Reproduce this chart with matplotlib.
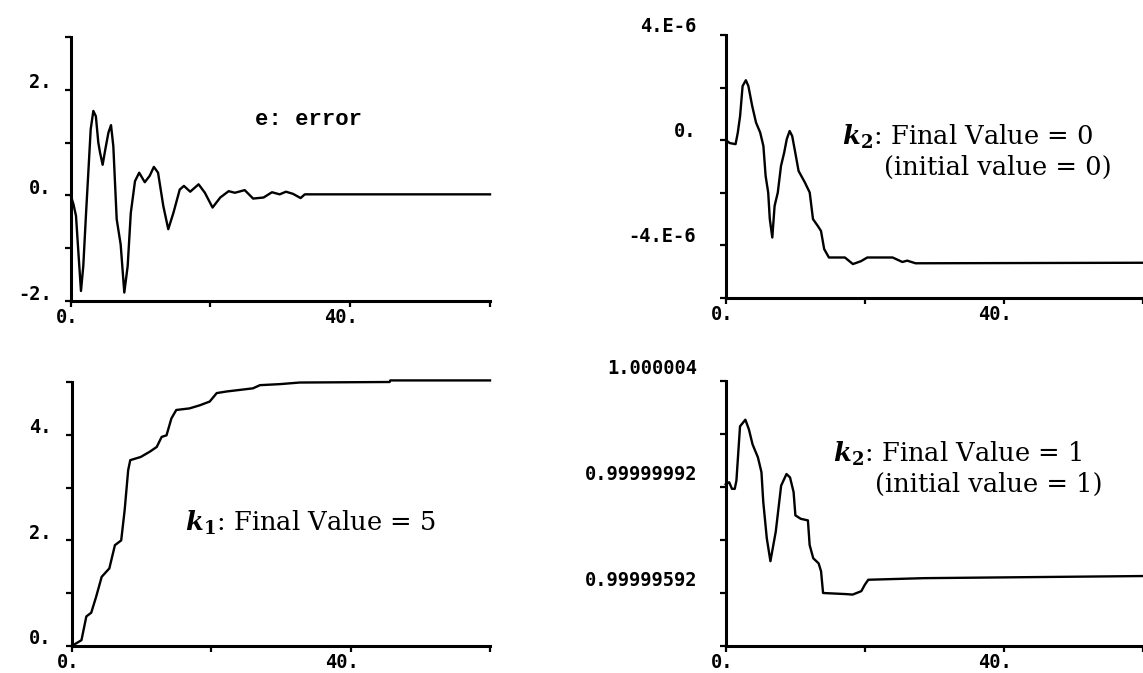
import matplotlib
matplotlib.use("Agg")
import matplotlib.pyplot as plt
from matplotlib.transforms import ScaledTranslation

plt.rcParams['mathtext.fontset'] = 'dejavuserif'

# ---------------- data ----------------
# e: error
err_t = [0, 0.4, 0.76, 1.1, 1.47, 1.8, 2.2, 2.57, 2.86, 3.24, 3.6, 3.95, 4.2, 4.57,
         4.95, 5.4, 5.77, 6.1, 6.58, 7.15, 7.67, 8.15, 8.6, 9.2, 9.8, 10.6, 11.3,
         11.9, 12.5, 13.25, 13.96, 14.7, 15.6, 16.2, 17.1, 18.3, 19.2, 20.3, 21.4,
         22.6, 23.5, 24.9, 26.1, 27.6, 28.8, 29.9, 30.8, 31.8, 32.9, 33.5, 60]
err_v = [0.0, -0.17, -0.39, -1.08, -1.81, -1.34, -0.33, 0.55, 1.25, 1.6, 1.5, 1.0, 0.81,
         0.58, 0.87, 1.19, 1.33, 0.93, -0.45, -0.93, -1.84, -1.34, -0.33, 0.27, 0.43,
         0.25, 0.37, 0.54, 0.43, -0.2, -0.64, -0.33, 0.11, 0.18, 0.07, 0.21, 0.05,
         -0.23, -0.04, 0.08, 0.05, 0.1, -0.06, -0.04, 0.06, 0.02, 0.07, 0.03, -0.05,
         0.02, 0.02]

# k2 (initial value = 0)
k2a_t = [0, 0.59, 1.42, 1.74, 2.07, 2.43, 2.9, 3.26, 3.81, 4.36, 4.96, 5.42, 5.74,
         6.11, 6.34, 6.7, 7.03, 7.49, 7.95, 8.41, 8.78, 9.19, 9.56, 10.0, 10.48,
         11.39, 12.08, 12.55, 13.24, 13.7, 14.16, 14.84, 17.14, 18.29, 19.45, 20.36,
         24.0, 25.4, 26.1, 27.3, 60]
k2a_v = [0.01e-6, -0.11e-6, -0.15e-6, 0.29e-6, 0.92e-6, 2.06e-6, 2.28e-6, 2.06e-6,
         1.3e-6, 0.67e-6, 0.29e-6, -0.22e-6, -1.36e-6, -1.99e-6, -3.0e-6, -3.7e-6,
         -2.5e-6, -1.99e-6, -0.98e-6, -0.47e-6, 0.04e-6, 0.35e-6, 0.16e-6, -0.47e-6,
         -1.17e-6, -1.61e-6, -1.99e-6, -3.0e-6, -3.26e-6, -3.45e-6, -4.14e-6,
         -4.46e-6, -4.46e-6, -4.71e-6, -4.6e-6, -4.46e-6, -4.46e-6, -4.63e-6,
         -4.58e-6, -4.68e-6, -4.66e-6]

# k1
k1_t = [0.0, 1.4, 2.1, 2.8, 3.5, 4.3, 5.4, 6.2, 7.1, 7.6, 8.1, 8.4, 9.9, 11.2, 12.2,
        12.9, 13.6, 14.3, 15.0, 16.9, 18.4, 19.8, 20.8, 22.2, 24.1, 26.0, 27.0, 29.9,
        32.7, 45.6, 45.7, 60]
k1_v = [0.0, 0.11, 0.56, 0.63, 0.93, 1.31, 1.47, 1.91, 2.0, 2.58, 3.33, 3.52, 3.58,
        3.68, 3.77, 3.96, 3.99, 4.31, 4.47, 4.5, 4.56, 4.63, 4.79, 4.82, 4.85, 4.88,
        4.94, 4.96, 4.99, 5.0, 5.03, 5.03]

# k2 (initial value = 1)
k2b_t = [0, 0.5, 0.9, 1.3, 1.54, 2.06, 2.31, 2.83, 3.34, 3.86, 4.63, 5.14, 5.4, 5.91,
         6.43, 7.2, 7.97, 8.74, 9.25, 9.76, 10.02, 10.79, 11.82, 12.07, 12.59, 13.36,
         13.71, 14.0, 17.2, 18.25, 19.5, 20.0, 20.5, 28.5, 60]
k2b_v = [1.0000001, 1.00000018, 0.99999993, 0.99999993, 1.00000024, 1.00000229,
         1.00000237, 1.00000254, 1.00000217, 1.00000161, 1.00000112, 1.00000056,
         0.99999944, 0.99999806, 0.9999972, 0.99999832, 1.00000005, 1.00000049,
         1.00000036, 0.99999981, 0.99999893, 0.9999988, 0.99999874, 0.99999781,
         0.99999731, 0.99999712, 0.99999682, 0.999996, 0.99999596, 0.99999594,
         0.99999607, 0.99999631, 0.9999965, 0.99999656, 0.99999664]

x_ticks = [0, 20, 40, 60]
x_tick_labels = ['0.', '', '40.', '']

err_yticks = [-2, -1, 0, 1, 2, 3]
err_yticklabels = ['-2.', '', '0.', '', '2.', '']
k1_yticks = [0, 1, 2, 3, 4, 5]
k1_yticklabels = ['0.', '', '2.', '', '4.', '']
k2a_yticks = [-6e-6, -4e-6, -2e-6, 0.0, 2e-6, 4e-6]
k2a_yticklabels = ['', '-4.E-6', '', '0.', '', '4.E-6']
k2b_yticks = [1 - 6e-6, 1 - 4e-6, 1 - 2e-6, 1.0, 1 + 2e-6, 1 + 4e-6]
k2b_yticklabels = ['', '0.99999592', '', '0.99999992', '', '1.000004']

# ---------------- figure ----------------
W, H = 1143, 673
fig = plt.figure(figsize=(W / 100, H / 100), dpi=100)


def px_axes(x0, x1, ytop, ybot):
    return fig.add_axes([x0 / W, 1 - ybot / H, (x1 - x0) / W, (ybot - ytop) / H])


TICKFONT = dict(family='DejaVu Sans Mono', size=13.5, weight='bold')


def style(ax, xlim, ylim, yticks, yticklabels, ypad, ydy):
    ax.set_xlim(*xlim)
    ax.set_ylim(*ylim)
    for s in ('top', 'right'):
        ax.spines[s].set_visible(False)
    for s in ('left', 'bottom'):
        ax.spines[s].set_linewidth(2.2)
    ax.set_xticks(x_ticks)
    ax.set_xticklabels(x_tick_labels, fontdict=TICKFONT)
    ax.set_yticks(yticks)
    ax.set_yticklabels(yticklabels, fontdict=TICKFONT)
    ax.tick_params(axis='both', direction='out', length=4.3, width=1.6, color='black')
    ax.tick_params(axis='x', pad=1)
    ax.tick_params(axis='y', pad=ypad)
    for lab in ax.get_yticklabels():
        lab.set_transform(lab.get_transform() + ScaledTranslation(0, ydy / 100, fig.dpi_scale_trans))
    for lab in ax.get_xticklabels():
        lab.set_horizontalalignment('right')
        lab.set_transform(lab.get_transform() + ScaledTranslation(8 / 100, 0, fig.dpi_scale_trans))
    ax.patch.set_alpha(0)


LINE = dict(color='black', lw=1.7, clip_on=False)
SERIF = dict(family='DejaVu Serif', size=18.5, va='center')

# panel 1: error
ax1 = px_axes(70.7, 490, 37, 301)
ax1.plot(err_t, err_v, **LINE)
style(ax1, (0, 60), (-2, 3), err_yticks, err_yticklabels, 9.5, 9)
ax1.text(26.4, 1.44, 'e: error', family='Liberation Mono', weight='bold', size=16, va='center')

# panel 2: k2 initial 0
ax2 = px_axes(725.7, 1143, 35, 298)
ax2.plot(k2a_t, k2a_v, **LINE)
style(ax2, (0, 57.6), (-6e-6, 4e-6), k2a_yticks, k2a_yticklabels, 17, 11)
ax2.text(16.7, 0.11e-6, r'$\mathbfit{k}_{\mathbf{2}}$: Final Value = 0', **SERIF)
ax2.text(22.7, -1.03e-6, '(initial value = 0)', **SERIF)

# panel 3: k1
ax3 = px_axes(71.7, 490, 382, 646)
ax3.plot(k1_t, k1_v, **LINE)
style(ax3, (0, 60), (0, 5), k1_yticks, k1_yticklabels, 10, 9)
ax3.text(16.3, 2.33, r'$\mathbfit{k}_{\mathbf{1}}$: Final Value = 5', **SERIF)

# panel 4: k2 initial 1
ax4 = px_axes(725.7, 1143, 381, 646)
ax4.plot(k2b_t, k2b_v, **LINE)
style(ax4, (0, 57.6), (1 - 6e-6, 1 + 4e-6), k2b_yticks, k2b_yticklabels, 16, 14)
ax4.text(15.4, 1 + 1.24e-6, r'$\mathbfit{k}_{\mathbf{2}}$: Final Value = 1', **SERIF)
ax4.text(21.5, 1 + 0.11e-6, '(initial value = 1)', **SERIF)

fig.savefig('out.png', dpi=100)
